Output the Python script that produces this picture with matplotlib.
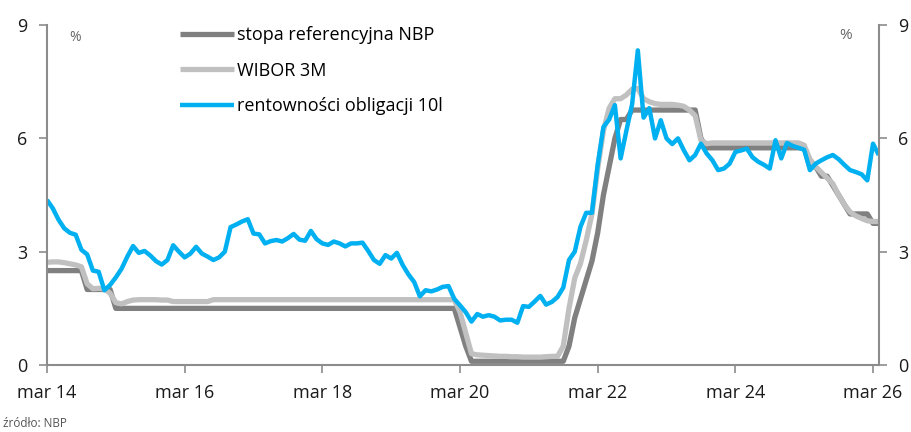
import numpy as np
import matplotlib.pyplot as plt

# -----------------
# Dane (miesięcznie od marca 2014)
# -----------------

stopa_ref = (
    [2.5] * 7 + [2.0] * 5 + [1.5] * 60 +          # 0..71
    [1.0, 0.5] + [0.1] * 17 +                     # 72..90
    [0.5, 1.25, 1.75, 2.25, 2.75, 3.5, 4.5, 5.25, 6.0, 6.5, 6.5] +  # 91..101
    [6.75] * 12 +                                 # 102..113
    [6.0] + [5.75] * 18 +                         # 114..132
    [5.25, 5.25, 5.0, 5.0, 4.75, 4.5, 4.25, 4.0, 4.0, 4.0, 4.0, 3.75, 3.75]  # 133..145
)

wibor_3m = (
    [2.72, 2.73, 2.73, 2.71, 2.68, 2.65, 2.60, 2.15, 2.02, 2.03, 2.02, 1.90,
     1.65, 1.62, 1.68, 1.72, 1.73, 1.73, 1.73, 1.73, 1.72, 1.72] +
    [1.68] * 7 +                                  # 22..28
    [1.73] * 43 +                                 # 29..71
    [1.40, 0.85, 0.30, 0.27, 0.26, 0.25, 0.24, 0.23, 0.23, 0.22, 0.22,
     0.21, 0.21, 0.21, 0.21, 0.22, 0.23, 0.23] +  # 72..89
    [0.50, 1.50, 2.30, 2.69, 3.30, 4.00, 5.20, 6.20, 6.80, 7.05, 7.05,
     7.15, 7.30, 7.32, 7.05, 6.97, 6.92, 6.90, 6.90, 6.90, 6.88, 6.85,
     6.75, 6.60, 5.95, 5.86] +                    # 90..115
    [5.88] * 16 +                                 # 116..131
    [5.82, 5.45, 5.25, 5.10, 4.95, 4.80, 4.50, 4.25, 4.05, 3.95, 3.88,
     3.82, 3.80, 3.80]                            # 132..145
)

obligacje_10l = [
    4.37, 4.15, 3.85, 3.62, 3.50, 3.45, 3.05, 2.93, 2.50, 2.47,
    1.98, 2.12, 2.32, 2.55, 2.87, 3.15, 2.97, 3.02, 2.90, 2.75,
    2.66, 2.78, 3.17, 3.00, 2.85, 2.95, 3.13, 2.95, 2.87, 2.78,
    2.85, 3.00, 3.65, 3.72, 3.80, 3.86, 3.48, 3.46, 3.22, 3.28,
    3.31, 3.27, 3.36, 3.47, 3.32, 3.29, 3.55, 3.33, 3.22, 3.18,
    3.27, 3.22, 3.14, 3.22, 3.22, 3.24, 3.02, 2.78, 2.68, 2.91,
    2.82, 2.97, 2.65, 2.40, 2.20, 1.82, 1.98, 1.95, 2.00, 2.07,
    2.09, 1.75, 1.58, 1.40, 1.15, 1.35, 1.28, 1.32, 1.28, 1.18,
    1.20, 1.20, 1.12, 1.56, 1.54, 1.68, 1.83, 1.60, 1.67, 1.80,
    2.05, 2.78, 3.00, 3.66, 4.03, 4.03, 5.30, 6.30, 6.50, 6.88,
    5.47, 6.20, 6.90, 8.33, 6.55, 6.80, 6.00, 6.48, 6.00, 5.85,
    6.00, 5.69, 5.42, 5.56, 5.86, 5.60, 5.42, 5.16, 5.20, 5.33,
    5.64, 5.68, 5.73, 5.50, 5.38, 5.30, 5.20, 5.95, 5.47, 5.88,
    5.80, 5.75, 5.70, 5.16, 5.33, 5.42, 5.50, 5.56, 5.45, 5.30,
    5.16, 5.11, 5.05, 4.89, 5.86, 5.56,
]

etykiety_x = ["mar 14", "mar 16", "mar 18", "mar 20", "mar 22", "mar 24", "mar 26"]
pozycje_x = [0, 24, 48, 72, 96, 120, 144]
ticki_y = [0, 3, 6, 9]

# -----------------
# Wykres
# -----------------

plt.rcParams["font.family"] = ["Open Sans", "DejaVu Sans"]

miesiace = np.arange(len(obligacje_10l))

fig = plt.figure(figsize=(9.11, 4.32), dpi=100)
ax = fig.add_axes([0.0516, 0.155, 0.913, 0.787])

ax.plot(miesiace, stopa_ref, color="#808080", lw=3.8, label="stopa referencyjna NBP",
        solid_joinstyle="round", solid_capstyle="butt")
ax.plot(miesiace, wibor_3m, color="#c0c0c0", lw=3.8, label="WIBOR 3M",
        solid_joinstyle="round", solid_capstyle="butt")
ax.plot(miesiace, obligacje_10l, color="#00b0f0", lw=3.2, label="rentowności obligacji 10l",
        solid_joinstyle="round", solid_capstyle="butt")

ax.set_xlim(0, 145)
ax.set_ylim(0, 9)
ax.set_xticks(pozycje_x)
ax.set_xticklabels(etykiety_x)
ax.set_yticks(ticki_y)

for s in ["left", "right", "bottom"]:
    ax.spines[s].set_color("#8c8c8c")
    ax.spines[s].set_linewidth(1.5)
ax.spines["top"].set_visible(False)

ax.tick_params(axis="both", colors="#8c8c8c", labelcolor="#1a1a1a", labelsize=13,
               length=6, width=1.2)
ax.tick_params(axis="y", right=True, labelright=True, pad=8)
ax.tick_params(axis="x", pad=8)

ax.text(0.027, 0.985, "%", transform=ax.transAxes, fontsize=10, color="#666666",
        va="top", ha="left")
ax.text(0.968, 0.99, "%", transform=ax.transAxes, fontsize=11, color="#666666",
        va="top", ha="right")

ax.legend(loc="upper left", bbox_to_anchor=(0.14, 1.045), frameon=False,
          fontsize=13, handlelength=3.0, handletextpad=0.15, labelspacing=0.98)

fig.text(0.003, 1 - 417 / 432, "źródło: NBP", fontsize=8.5, color="#555555",
         va="top", ha="left")

fig.savefig("out.png", dpi=100)
